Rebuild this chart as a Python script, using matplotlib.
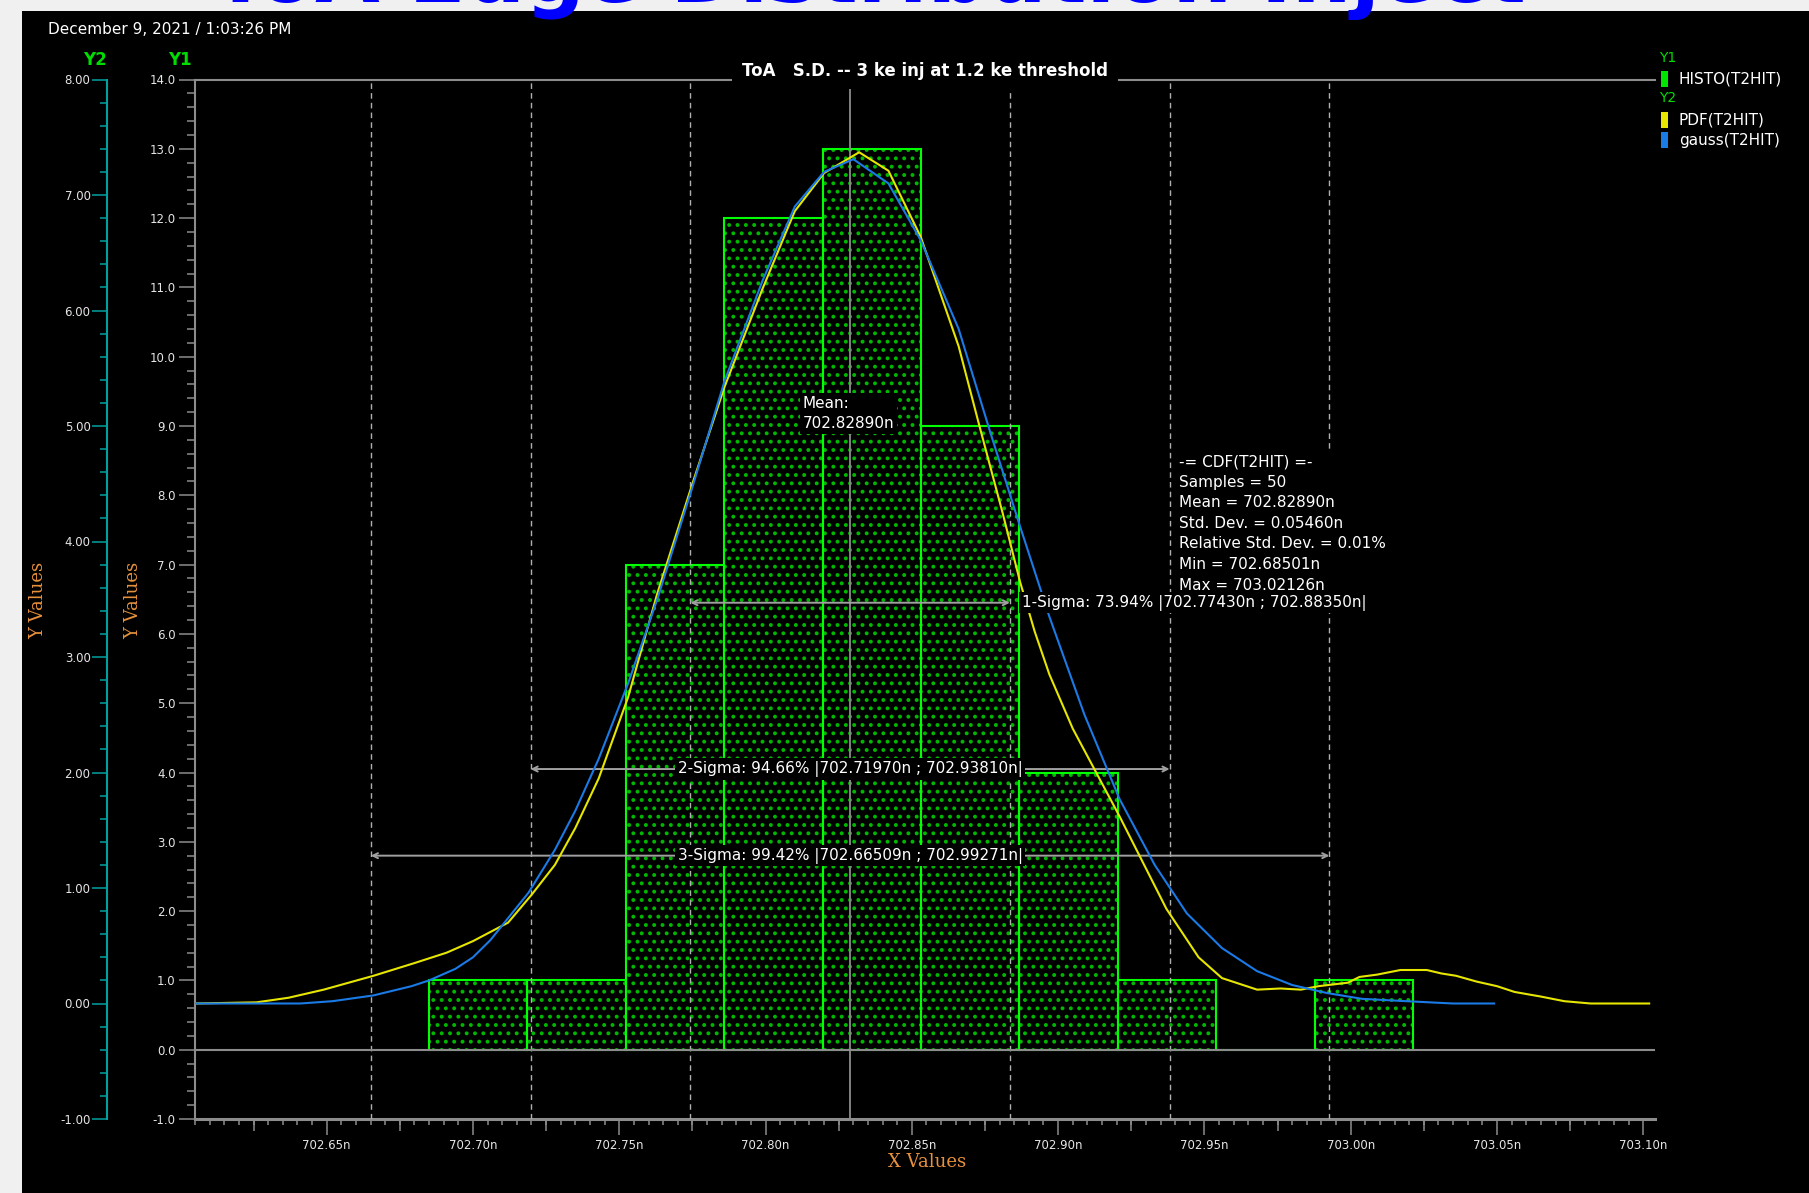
import numpy as np
import matplotlib.pyplot as plt
from matplotlib.patches import Rectangle
from matplotlib.ticker import MultipleLocator, FuncFormatter

# T2HIT histogram (counts per bin, bins span min..max)
hist_counts = [1, 1, 7, 12, 13, 9, 4, 1, 0, 1]
t_min = 702.68501
t_max = 703.02126
t_mean = 702.82890
t_std = 0.05460
n_samples = 50

sigma_names = ['1-Sigma', '2-Sigma', '3-Sigma']
sigma_pct = [73.94, 94.66, 99.42]
sigma_lo = [702.77430, 702.71970, 702.66509]
sigma_hi = [702.88350, 702.93810, 702.99271]
sigma_level = [6.45, 4.05, 2.8]

# PDF(T2HIT) on Y2
pdf_x = [702.605, 702.626, 702.637, 702.649, 702.666, 702.680, 702.691, 702.700, 702.712,
         702.720, 702.728, 702.735, 702.743, 702.753, 702.763, 702.775, 702.786, 702.799,
         702.810, 702.820, 702.832, 702.842, 702.853, 702.866, 702.873, 702.881, 702.887,
         702.892, 702.897, 702.905, 702.913, 702.921, 702.927, 702.937, 702.948, 702.956,
         702.968, 702.976, 702.983, 702.989, 702.999, 703.003, 703.009, 703.017, 703.026,
         703.031, 703.036, 703.043, 703.050, 703.056, 703.065, 703.073, 703.082, 703.102]
pdf_y = [0.00, 0.01, 0.05, 0.12, 0.24, 0.35, 0.44, 0.54, 0.70,
         0.94, 1.20, 1.52, 1.95, 2.65, 3.55, 4.50, 5.34, 6.19,
         6.86, 7.19, 7.37, 7.21, 6.64, 5.69, 5.01, 4.25, 3.65,
         3.22, 2.85, 2.38, 2.00, 1.62, 1.32, 0.82, 0.40, 0.22,
         0.12, 0.13, 0.12, 0.15, 0.18, 0.23, 0.25, 0.29, 0.29,
         0.26, 0.24, 0.19, 0.15, 0.10, 0.06, 0.02, 0.00, 0.00]

# gauss(T2HIT) on Y2
gauss_x = [702.605, 702.641, 702.652, 702.666, 702.679, 702.685, 702.694, 702.700, 702.706,
           702.719, 702.728, 702.735, 702.743, 702.753, 702.763, 702.775, 702.786, 702.799,
           702.810, 702.820, 702.830, 702.842, 702.853, 702.866, 702.877, 702.887, 702.897,
           702.909, 702.921, 702.933, 702.944, 702.956, 702.968, 702.980, 702.992, 703.004,
           703.019, 703.035, 703.049]
gauss_y = [0.00, 0.00, 0.02, 0.07, 0.15, 0.20, 0.30, 0.40, 0.55,
           0.96, 1.33, 1.67, 2.12, 2.77, 3.50, 4.47, 5.39, 6.26,
           6.90, 7.20, 7.31, 7.10, 6.61, 5.84, 4.93, 4.13, 3.35,
           2.50, 1.77, 1.20, 0.78, 0.48, 0.28, 0.16, 0.09, 0.04,
           0.02, 0.00, 0.00]

legend_labels = ['HISTO(T2HIT)', 'PDF(T2HIT)', 'gauss(T2HIT)']
legend_colors = ['#00e600', '#e6e600', '#1a7ae6']

W, H = 1809, 1193
GRAY = '#8c8c8c'
TEAL = '#00a0a0'
ORANGE = '#e8913c'
GREEN = '#00dd00'

plt.rcParams['hatch.linewidth'] = 1.6


def fx(px):
    return px / W


def fy(py):
    return 1 - py / H


fig = plt.figure(figsize=(W / 100, H / 100), dpi=100, facecolor='#f0f0f0')
fig.patches.append(Rectangle((fx(22), 0), 1, fy(11), transform=fig.transFigure,
                             facecolor='black', edgecolor='none', zorder=-1))

ax = fig.add_axes([fx(195), 74 / H, 1460 / W, 1039.5 / H])
ax.set_facecolor('black')
ax.set_xlim(702.605, 703.104)
ax.set_ylim(-1, 14)

# histogram bars: dotted fill then bright outline
edges = np.linspace(t_min, t_max, len(hist_counts) + 1)
bw = edges[1] - edges[0]
ax.bar(edges[:-1], hist_counts, width=bw, align='edge', facecolor='black',
       edgecolor='#00b800', hatch='..', linewidth=0, zorder=2)
ax.bar(edges[:-1], hist_counts, width=bw, align='edge', fill=False,
       edgecolor='#00ff00', linewidth=1.5, zorder=2.2)

ax.axhline(0, color=GRAY, lw=1.5, zorder=3.5)
ax.axvline(t_mean, color=GRAY, lw=1.3, zorder=3)
for lo, hi in zip(sigma_lo, sigma_hi):
    for v in (lo, hi):
        ax.axvline(v, color='#b0b0b0', lw=1.0, dashes=(4, 3), zorder=3)

for lo, hi, lvl in zip(sigma_lo, sigma_hi, sigma_level):
    ax.annotate('', xy=(lo, lvl), xytext=(hi, lvl), zorder=3,
                arrowprops=dict(arrowstyle='<->', color='#a0a0a0', lw=1.4,
                                shrinkA=0, shrinkB=0, mutation_scale=9))

# Y1 axis styling
ax.spines['right'].set_visible(False)
ax.spines['left'].set_color(GRAY)
ax.spines['left'].set_linewidth(1.5)
ax.spines['top'].set_color(GRAY)
ax.spines['top'].set_linewidth(1.5)
ax.spines['bottom'].set_color(GRAY)
ax.spines['bottom'].set_linewidth(2.2)

ax.yaxis.set_major_locator(MultipleLocator(1))
ax.yaxis.set_minor_locator(MultipleLocator(0.2))
ax.yaxis.set_major_formatter(FuncFormatter(lambda v, p: f'{v:.1f}'))
ax.xaxis.set_major_locator(MultipleLocator(0.05))
ax.xaxis.set_minor_locator(MultipleLocator(0.005))
ax.xaxis.set_major_formatter(FuncFormatter(lambda v, p: f'{v:.2f}n'))
ax.tick_params(which='both', direction='out', color=GRAY, width=1.1,
               labelcolor='#e6e6e6', labelsize=8.5)
ax.tick_params(axis='y', which='major', length=11.5, pad=2.4)
ax.tick_params(axis='y', which='minor', length=5.8)
ax.tick_params(axis='x', which='major', length=11.5, pad=3)
ax.tick_params(axis='x', which='minor', length=4)

# intermediate x ticks every 0.025
sec = ax.secondary_xaxis('bottom')
sec.set_xticks(np.arange(702.625, 703.11, 0.05))
sec.tick_params(direction='out', length=8.3, width=1.1, color=GRAY, labelbottom=False)
sec.spines['bottom'].set_visible(False)

ax.text(0.5, 1.0, 'ToA   S.D. -- 3 ke inj at 1.2 ke threshold', transform=ax.transAxes,
        ha='center', va='bottom', color='white', fontweight='bold', fontsize=12,
        bbox=dict(facecolor='black', edgecolor='none', pad=7), zorder=10, clip_on=False)

# Y2 axis for the density curves
ax2 = ax.twinx()
ax2.set_ylim(-1, 8)
for s in ('right', 'top', 'bottom'):
    ax2.spines[s].set_visible(False)
ax2.spines['left'].set_visible(True)
ax2.spines['left'].set_position(('outward', 63.6))
ax2.spines['left'].set_color(TEAL)
ax2.spines['left'].set_linewidth(1.5)
ax2.yaxis.tick_left()
ax2.yaxis.set_major_locator(MultipleLocator(1))
ax2.yaxis.set_minor_locator(MultipleLocator(0.2))
ax2.yaxis.set_major_formatter(FuncFormatter(lambda v, p: f'{v:.2f}'))
ax2.tick_params(axis='y', which='both', direction='out', color=TEAL, width=1.1,
                labelcolor='#e6e6e6', labelsize=8.5)
ax2.tick_params(axis='y', which='major', length=10.6, pad=1)
ax2.tick_params(axis='y', which='minor', length=4.8)

ax2.plot(pdf_x, pdf_y, color=legend_colors[1], lw=1.5, zorder=4)
ax2.plot(gauss_x, gauss_y, color=legend_colors[2], lw=1.5, zorder=4)

# annotations (drawn in Y1 data units, above the curves)
tr = ax.transData
box = dict(facecolor='black', edgecolor='none', pad=2)
ax2.text(702.8127, 9.44, f'Mean:\n{t_mean:.5f}n', transform=tr, color='white',
         fontsize=11, va='top', ha='left', linespacing=1.45, bbox=box, zorder=6)

stats = '\n'.join([
    '-= CDF(T2HIT) =-',
    f'Samples = {n_samples}',
    f'Mean = {t_mean:.5f}n',
    f'Std. Dev. = {t_std:.5f}n',
    'Relative Std. Dev. = 0.01%',
    f'Min = {t_min:.5f}n',
    f'Max = {t_max:.5f}n',
])
ax2.text(702.9413, 8.59, stats, transform=tr, color='white', fontsize=11,
         va='top', ha='left', linespacing=1.46,
         bbox=dict(facecolor='black', edgecolor='none', pad=1.5), zorder=6)

for i, (name, pct, lo, hi, lvl) in enumerate(zip(sigma_names, sigma_pct, sigma_lo,
                                                 sigma_hi, sigma_level)):
    label = f'{name}: {pct:.2f}% |{lo:.5f}n ; {hi:.5f}n|'
    if i == 0:
        ax2.text(hi + 0.004, lvl, label, transform=tr, color='white', fontsize=11,
                 ha='left', va='center', bbox=box, zorder=7)
    else:
        ax2.text((lo + hi) / 2, lvl, label, transform=tr, color='white', fontsize=11,
                 ha='center', va='center', bbox=box, zorder=7)

# figure-level labels
fig.text(fx(212), fy(2), 'ToA Edge Distribution Inject', color='#0000ff', fontsize=60,
         fontweight='bold', ha='left', va='baseline', zorder=20)
fig.text(fx(48), fy(29), 'December 9, 2021 / 1:03:26 PM', color='white', fontsize=11,
         ha='left', va='center')
fig.text(fx(95), fy(60), 'Y2', color=GREEN, fontsize=12, fontweight='bold',
         ha='center', va='center')
fig.text(fx(180), fy(60), 'Y1', color=GREEN, fontsize=12, fontweight='bold',
         ha='center', va='center')
fig.text(fx(38), fy(600), 'Y Values', color=ORANGE, fontsize=13, family='DejaVu Serif',
         rotation=90, ha='center', va='center')
fig.text(fx(133), fy(600), 'Y Values', color=ORANGE, fontsize=13, family='DejaVu Serif',
         rotation=90, ha='center', va='center')
fig.text(fx(927), fy(1162), 'X Values', color=ORANGE, fontsize=13, family='DejaVu Serif',
         ha='center', va='center')

# legend block
fig.text(fx(1659), fy(58), 'Y1', color=GREEN, fontsize=10, ha='left', va='center')
fig.text(fx(1659), fy(98), 'Y2', color=GREEN, fontsize=10, ha='left', va='center')
legend_rows = [79, 120, 140]
for lab, col, row in zip(legend_labels, legend_colors, legend_rows):
    fig.patches.append(Rectangle((fx(1661), fy(row + 8)), 7 / W, 16 / H,
                                 transform=fig.transFigure, facecolor=col,
                                 edgecolor='none'))
    fig.text(fx(1679), fy(row), lab, color='white', fontsize=11, ha='left', va='center')

fig.savefig('out.png', dpi=100, facecolor=fig.get_facecolor())
